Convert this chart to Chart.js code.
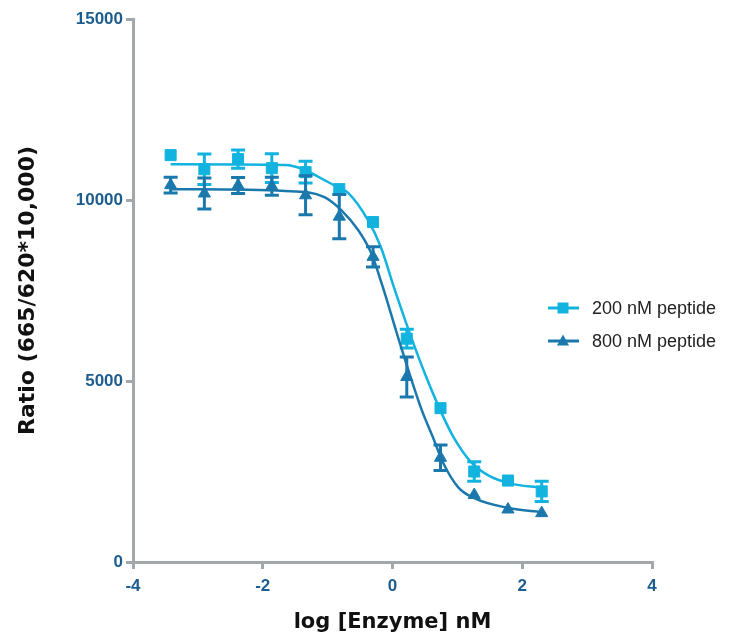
<!DOCTYPE html>
<html>
<head>
<meta charset="utf-8">
<script src="https://cdn.jsdelivr.net/npm/chart.js@4/dist/chart.umd.min.js"></script>
<style>
  html, body { margin: 0; padding: 0; background: #fff; }
</style>
</head>
<body>
<canvas id="c" width="740" height="640"></canvas>
<script>
// Data
const logConc = [-3.42, -2.90, -2.38, -1.86, -1.34, -0.82, -0.30, 0.22, 0.74, 1.26, 1.78, 2.30]
const ratio200 = [11240, 10850, 11130, 10880, 10770, 10300, 9390, 6170, 4250, 2500, 2250, 1950]
const err200 = [0, 420, 250, 400, 300, 0, 0, 260, 0, 270, 0, 280]
const ratio800 = [10410, 10180, 10400, 10380, 10130, 9540, 8430, 5110, 2880, 1850, 1450, 1350]
const err800 = [220, 430, 220, 250, 540, 610, 280, 550, 350, 0, 0, 0]

// Fitted curves
const fit200X = [-3.42, -1.66, -0.90, -0.68, -0.38, -0.18, 0.02, 0.25, 0.50, 0.75, 0.94, 1.21, 1.47, 1.79, 2.30]
const fit200Y = [10990, 10970, 10410, 10190, 9450, 8700, 7600, 6400, 5200, 4140, 3450, 2760, 2400, 2180, 2050]
const fit800X = [-3.42, -1.66, -1.05, -0.79, -0.53, -0.33, -0.15, 0.08, 0.44, 0.64, 0.78, 1.01, 1.25, 1.79, 2.30]
const fit800Y = [10300, 10250, 10080, 9720, 9170, 8540, 7600, 6240, 4250, 3370, 2740, 2070, 1770, 1490, 1380]

const xTicks = [-4, -2, 0, 2, 4]
const yTicks = [0, 5000, 10000, 15000]
const seriesNames = ['200 nM peptide', '800 nM peptide']

// Colours
const light = '#12b3df'
const dark = '#1b78ad'
const axisGrey = '#a2a7ab'
const tickBlue = '#1d5c8f'

const pts = (xs, ys) => xs.map((x, i) => ({ x: x, y: ys[i] }))

// error bars drawn just before each point dataset
const errorBars = {
  id: 'errorBars',
  beforeDatasetDraw(chart, args) {
    const ds = chart.data.datasets[args.index]
    if (!ds.errors) return
    const ctx = chart.ctx
    const xs = chart.scales.x, ys = chart.scales.y
    ctx.save()
    ctx.strokeStyle = ds.borderColor
    ctx.lineWidth = 3
    ds.data.forEach((p, i) => {
      const e = ds.errors[i]
      if (!e) return
      const px = xs.getPixelForValue(p.x)
      const top = ys.getPixelForValue(p.y + e)
      const bot = ys.getPixelForValue(p.y - e)
      ctx.beginPath()
      ctx.moveTo(px, top); ctx.lineTo(px, bot)
      ctx.moveTo(px - 7, top); ctx.lineTo(px + 7, top)
      ctx.moveTo(px - 7, bot); ctx.lineTo(px + 7, bot)
      ctx.stroke()
    })
    ctx.restore()
  }
}

// legend to the right, overlapping the plot edge like the original
const sideLegend = {
  id: 'sideLegend',
  afterDraw(chart) {
    const ctx = chart.ctx
    const items = [
      { name: seriesNames[0], color: light, shape: 'rect', y: 308 },
      { name: seriesNames[1], color: dark, shape: 'tri', y: 341 }
    ]
    ctx.save()
    items.forEach(it => {
      ctx.strokeStyle = it.color
      ctx.fillStyle = it.color
      ctx.lineWidth = 3
      ctx.beginPath()
      ctx.moveTo(548, it.y); ctx.lineTo(579, it.y)
      ctx.stroke()
      const cx = 563
      ctx.beginPath()
      if (it.shape === 'rect') {
        ctx.rect(cx - 5.5, it.y - 5.5, 11, 11)
      } else {
        ctx.moveTo(cx, it.y - 6.5)
        ctx.lineTo(cx + 6, it.y + 4.5)
        ctx.lineTo(cx - 6, it.y + 4.5)
        ctx.closePath()
      }
      ctx.fill()
      ctx.fillStyle = '#222'
      ctx.font = '18px "Liberation Sans", Arial, sans-serif'
      ctx.textBaseline = 'middle'
      ctx.fillText(it.name, 592, it.y + 1)
    })
    ctx.restore()
  }
}

const tickFont = { family: '"Liberation Sans", Arial, sans-serif', size: 17, weight: 'bold' }
const titleFont = { family: '"DejaVu Sans", sans-serif', size: 22, weight: 'bold' }

new Chart(document.getElementById('c'), {
  type: 'scatter',
  data: {
    datasets: [
      {
        label: seriesNames[1], data: pts(logConc, ratio800), errors: err800,
        pointStyle: 'triangle', pointRadius: 7, backgroundColor: dark, borderColor: dark, borderWidth: 1
      },
      {
        type: 'line', label: 'fit800', data: pts(fit800X, fit800Y),
        borderColor: dark, borderWidth: 2.5, pointRadius: 0, cubicInterpolationMode: 'monotone', fill: false
      },
      {
        label: seriesNames[0], data: pts(logConc, ratio200), errors: err200,
        pointStyle: 'rect', pointRadius: 7.8, backgroundColor: light, borderColor: light, borderWidth: 1
      },
      {
        type: 'line', label: 'fit200', data: pts(fit200X, fit200Y),
        borderColor: light, borderWidth: 2.5, pointRadius: 0, cubicInterpolationMode: 'monotone', fill: false
      }
    ]
  },
  options: {
    responsive: false,
    animation: false,
    devicePixelRatio: 1,
    layout: { padding: { top: 19, right: 88, left: 0, bottom: 0 } },
    plugins: { legend: { display: false }, tooltip: { enabled: false } },
    scales: {
      x: {
        type: 'linear', min: -4, max: 4,
        afterBuildTicks: s => { s.ticks = xTicks.map(v => ({ value: v })) },
        afterFit: s => { s.height = 78 },
        ticks: { color: tickBlue, padding: 7, font: tickFont, callback: v => String(v) },
        grid: { drawOnChartArea: false, color: axisGrey, lineWidth: 3, tickLength: 7 },
        border: { color: axisGrey, width: 3 },
        title: {
          display: true, text: 'log [Enzyme] nM', color: '#111',
          font: { family: '"DejaVu Sans", sans-serif', size: 21, weight: 'bold' },
          padding: { top: 0, bottom: 5 }
        }
      },
      y: {
        type: 'linear', min: 0, max: 15000,
        afterBuildTicks: s => { s.ticks = yTicks.map(v => ({ value: v })) },
        afterFit: s => { s.width = 133 },
        ticks: { color: tickBlue, padding: 3, font: tickFont, callback: v => String(v) },
        grid: { drawOnChartArea: false, color: axisGrey, lineWidth: 3, tickLength: 7 },
        border: { color: axisGrey, width: 3 },
        title: {
          display: true, text: 'Ratio (665/620*10,000)', color: '#111',
          font: titleFont,
          padding: { top: 15, bottom: 0 }
        }
      }
    }
  },
  plugins: [errorBars, sideLegend]
})
</script>
</body>
</html>
